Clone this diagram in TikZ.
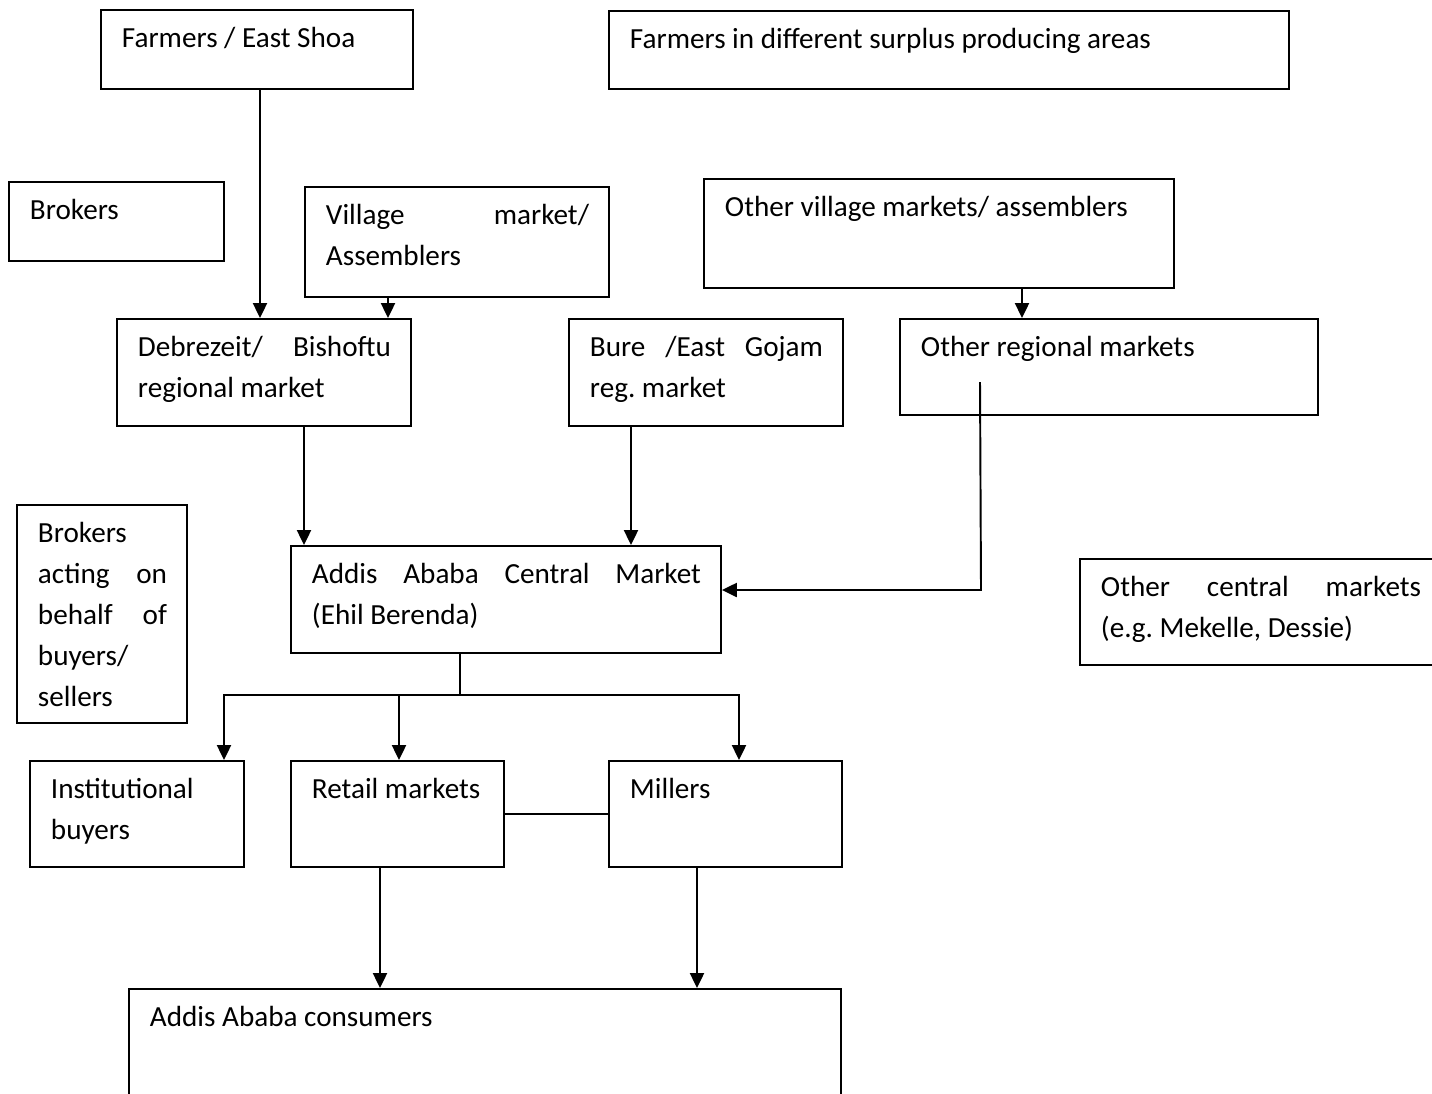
\documentclass[tikz,border=0pt]{standalone}
\usepackage{fontspec}
\setmainfont{Carlito}
\usetikzlibrary{arrows.meta}
\frenchspacing
\newlength{\px}
\setlength{\px}{0.02cm}
\newcommand{\cadre}[3]{\parbox[t][#2\px][t]{#1\px}{\leftskip=21\px\rightskip=20\px\hyphenpenalty=10000\tolerance=10000\hbadness=10000\rule{0pt}{38\px}#3}}
\begin{document}
\begin{tikzpicture}[x=0.02cm, y=-0.02cm]
	\tikzset{boite/.style={draw, line width=1.1pt, anchor=north west, inner sep=0pt, font=\fontsize{16.6}{23.2}\selectfont}, fleche/.style={-{Triangle[length=8.5pt, width=8pt]}, line width=1.1pt}, trait/.style={line width=1.1pt}};

	\useasboundingbox (0,0) rectangle (1432,1093);
	\clip (0,0) rectangle (1432,1093);

	\node[boite] (fe) at ( 100,    9) {\cadre{312}{79}{Farmers / East Shoa}};
	\node[boite] (fs) at ( 608,   10) {\cadre{680}{78}{Farmers in different surplus producing areas}};
	\node[boite] (br) at (   8,  181) {\cadre{215}{79}{Brokers}};
	\node[boite] (va) at ( 304,  186) {\cadre{304}{110}{Village market/\linebreak Assemblers}};
	\node[boite] (ov) at ( 703,  178) {\cadre{470}{109}{Other village markets/ assemblers}};
	\node[boite] (db) at ( 116,  318) {\cadre{294}{107}{Debrezeit/ Bishoftu\linebreak regional market}};
	\node[boite] (bg) at ( 568,  318) {\cadre{274}{107}{Bure /East Gojam\linebreak reg. market}};
	\node[boite] (om) at ( 899,  318) {\cadre{418}{96}{Other regional markets}};
	\node[boite] (ba) at (  16,  504) {\cadre{170}{218}{Brokers\\ acting on\linebreak behalf of\linebreak buyers/\\ sellers}};
	\node[boite] (cm) at ( 290,  545) {\cadre{430}{107}{Addis Ababa Central Market\linebreak (Ehil Berenda)}};
	\node[boite] (oc) at (1079,  558) {\cadre{361}{106}{Other central markets\linebreak (e.g. Mekelle, Dessie)}};
	\node[boite] (ib) at (  29,  760) {\cadre{214}{106}{Institutional\\ buyers}};
	\node[boite] (rm) at ( 290,  760) {\cadre{213}{106}{Retail markets}};
	\node[boite] (mi) at ( 608,  760) {\cadre{233}{106}{Millers}};
	\node[boite] (cs) at ( 128,  988) {\cadre{712}{130}{Addis Ababa consumers}};

	\coordinate (omdep) at (980, 382);
	\coordinate (coude) at (981, 590);
	\coordinate (jct)   at (460, 695);

	\draw[fleche] (fe.south -|  260,0) -- (db.north -|  260,0);
	\draw[fleche] (va.south -|  388,0) -- (db.north -|  388,0);
	\draw[fleche] (ov.south -| 1022,0) -- (om.north -| 1022,0);
	\draw[fleche] (db.south -|  304,0) -- (cm.north -|  304,0);
	\draw[fleche] (bg.south -|  631,0) -- (cm.north -|  631,0);
	\draw[fleche] (omdep) -- (coude) -- (coude -| cm.east);

	\draw[trait]  (cm.south -| jct) -- (jct);
	\draw[fleche] (jct) -| (ib.north -| 224,0);
	\draw[fleche] (jct) -| (rm.north -| 399,0);
	\draw[fleche] (jct) -| (mi.north -| 739,0);
	\draw[trait]  (rm.east) -- (mi.west);

	\draw[fleche] (rm.south -| 380,0) -- (cs.north -| 380,0);
	\draw[fleche] (mi.south -| 697,0) -- (cs.north -| 697,0);

\end{tikzpicture}
\end{document}
